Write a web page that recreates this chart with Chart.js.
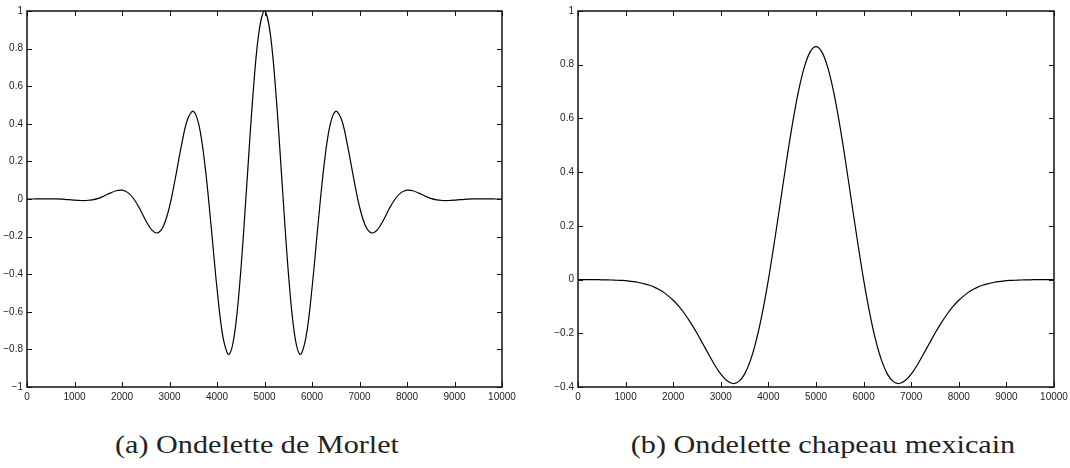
<!DOCTYPE html>
<html>
<head>
<meta charset="utf-8">
<script src="https://cdn.jsdelivr.net/npm/chart.js@4/dist/chart.umd.min.js"></script>
<style>
    html, body { margin: 0; padding: 0; background: #fff; overflow: hidden; }
    body { width: 1070px; height: 468px; position: relative; }
    canvas { position: absolute; top: 0; }
    #morletCanvas { left: 0; }
    #hatCanvas { left: 550px; }
    .caption {
        position: absolute;
        top: 432px;
        width: 500px;
        text-align: center;
        font-family: "Liberation Serif", "Times New Roman", serif;
        font-size: 26px;
        line-height: 1;
        color: #222;
        transform: scaleX(1.16);
        white-space: nowrap;
    }
</style>
</head>
<body>
<canvas id="morletCanvas" width="540" height="410"></canvas>
<canvas id="hatCanvas" width="530" height="410"></canvas>
<div class="caption" style="left: 7px;">(a) Ondelette de Morlet</div>
<div class="caption" style="left: 573px;">(b) Ondelette chapeau mexicain</div>
<script>
// sample positions (x axis)
const xValues = [0, 125, 250, 375, 500, 625, 750, 875, 1000, 1125, 1250, 1375, 1500, 1625, 1750, 1875,
    2000, 2125, 2250, 2375, 2500, 2625, 2750, 2875, 3000, 3125, 3250, 3375, 3500, 3625, 3750, 3875,
    4000, 4125, 4250, 4375, 4500, 4625, 4750, 4875, 5000, 5125, 5250, 5375, 5500, 5625, 5750, 5875,
    6000, 6125, 6250, 6375, 6500, 6625, 6750, 6875, 7000, 7125, 7250, 7375, 7500, 7625, 7750, 7875,
    8000, 8125, 8250, 8375, 8500, 8625, 8750, 8875, 9000, 9125, 9250, 9375, 9500, 9625, 9750, 9875, 10000];

// (a) Morlet
const morletValues = [0.000, 0.000, 0.001, 0.001, 0.001, 0.001, -0.001, -0.003, -0.006, -0.008, -0.008, -0.005,
    0.003, 0.016, 0.031, 0.044, 0.047, 0.034, 0.000, -0.052, -0.114, -0.164, -0.180, -0.142, -0.041, 0.113,
    0.283, 0.420, 0.467, 0.387, 0.172, -0.141, -0.475, -0.733, -0.827, -0.707, -0.384, 0.068, 0.530, 0.873,
    1.000,
    0.873, 0.530, 0.068, -0.384, -0.707, -0.827, -0.733, -0.475, -0.141, 0.172, 0.387, 0.467, 0.420, 0.283,
    0.113, -0.041, -0.142, -0.180, -0.164, -0.114, -0.052, 0.000, 0.034, 0.047, 0.044, 0.031, 0.016, 0.003,
    -0.005, -0.008, -0.008, -0.006, -0.003, -0.001, 0.001, 0.001, 0.001, 0.001, 0.000, 0.000];

// (b) Mexican hat
const hatValues = [0.000, 0.000, 0.000, 0.000, -0.001, -0.001, -0.002, -0.003, -0.004, -0.007, -0.010, -0.015,
    -0.021, -0.030, -0.042, -0.058, -0.077, -0.101, -0.130, -0.163, -0.200, -0.240, -0.280, -0.319, -0.352,
    -0.376, -0.387, -0.380, -0.352, -0.300, -0.223, -0.122, 0.000, 0.139, 0.286, 0.435, 0.574, 0.695, 0.788,
    0.847, 0.867,
    0.847, 0.788, 0.695, 0.574, 0.435, 0.286, 0.139, 0.000, -0.122, -0.223, -0.300, -0.352, -0.380, -0.387,
    -0.376, -0.352, -0.319, -0.280, -0.240, -0.200, -0.163, -0.130, -0.101, -0.077, -0.058, -0.042, -0.030,
    -0.021, -0.015, -0.010, -0.007, -0.004, -0.003, -0.002, -0.001, -0.001, 0.000, 0.000, 0.000, 0.000];

const xTicks = [0, 1000, 2000, 3000, 4000, 5000, 6000, 7000, 8000, 9000, 10000];
const morletYRange = [-1, 1];
const hatYRange = [-0.4, 1];

const tickFont = { family: '"Liberation Sans", Arial, sans-serif', size: 10 };

function formatTick(v) {
    const r = Math.round(v * 10) / 10;
    return r === 0 ? '0' : String(r).replace('-', '\u2212');
}

// box round the plot with small inward ticks on all four sides, like matlab
const matlabFrame = {
    id: 'matlabFrame',
    afterDatasetsDraw(chart) {
        const { ctx, chartArea: a } = chart;
        const xs = chart.scales.x;
        const ys = chart.scales.y;
        const len = 5;
        ctx.save();
        ctx.strokeStyle = '#111';
        ctx.lineWidth = 1;
        ctx.beginPath();
        xs.ticks.forEach(t => {
            const px = Math.round(xs.getPixelForValue(t.value)) + 0.5;
            ctx.moveTo(px, a.bottom); ctx.lineTo(px, a.bottom - len);
            ctx.moveTo(px, a.top); ctx.lineTo(px, a.top + len);
        });
        ys.ticks.forEach(t => {
            const py = Math.round(ys.getPixelForValue(t.value)) + 0.5;
            ctx.moveTo(a.left, py); ctx.lineTo(a.left + len, py);
            ctx.moveTo(a.right, py); ctx.lineTo(a.right - len, py);
        });
        ctx.stroke();
        ctx.lineWidth = 1.5;
        ctx.strokeRect(a.left, a.top, a.right - a.left, a.bottom - a.top);
        ctx.restore();
    }
};

function makeChart(canvasId, values, yRange, yWidth, rightPad) {
    const ctx = document.getElementById(canvasId).getContext('2d');
    return new Chart(ctx, {
        type: 'line',
        data: {
            datasets: [{
                data: xValues.map((x, i) => ({ x: x, y: values[i] })),
                borderColor: '#000',
                borderWidth: 1.2,
                pointRadius: 0,
                fill: false,
                tension: 0.35
            }]
        },
        options: {
            responsive: false,
            devicePixelRatio: 1,
            animation: false,
            events: [],
            layout: { padding: { left: 0, top: 11, right: rightPad, bottom: 0 } },
            plugins: { legend: { display: false }, tooltip: { enabled: false } },
            scales: {
                x: {
                    type: 'linear',
                    min: xTicks[0],
                    max: xTicks[xTicks.length - 1],
                    afterBuildTicks: s => { s.ticks = xTicks.map(v => ({ value: v })); },
                    afterFit: s => { s.height = 23; },
                    grid: { display: false, drawTicks: false },
                    border: { display: false },
                    ticks: {
                        font: tickFont, color: '#222', padding: 4, maxRotation: 0, autoSkip: false,
                        callback: v => String(v)
                    }
                },
                y: {
                    min: yRange[0],
                    max: yRange[1],
                    afterFit: s => { s.width = yWidth; },
                    grid: { display: false, drawTicks: false },
                    border: { display: false },
                    ticks: { stepSize: 0.2, font: tickFont, color: '#222', padding: 4, callback: formatTick }
                }
            }
        },
        plugins: [matlabFrame]
    });
}

makeChart('morletCanvas', morletValues, morletYRange, 27, 38);
makeChart('hatCanvas', hatValues, hatYRange, 28, 26);
</script>
</body>
</html>
